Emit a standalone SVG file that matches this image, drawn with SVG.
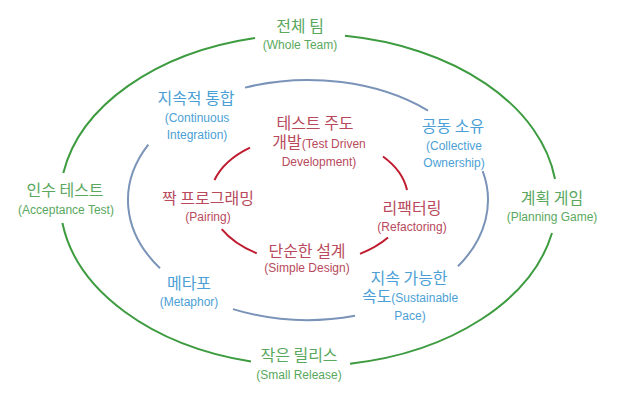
<svg xmlns="http://www.w3.org/2000/svg" width="617" height="405" viewBox="0 0 617 405">
<style>
.ring{fill:none;stroke-width:2;stroke-linecap:butt}
.rg{stroke:#3d9b40}
.rb{stroke:#7a93b8}
.rr{stroke:#c01a2e}
text{text-anchor:middle}
.ko{font-family:"Noto Sans CJK KR","Noto Sans",sans-serif;font-size:16px}
.en{font-family:"Liberation Sans",Arial,sans-serif;font-size:12px}
.g{fill:#5aa85e}
.b{fill:#4c9fd6}
.r{fill:#b84a5c}
</style>
<rect width="617" height="405" fill="#ffffff"/>
<g id="connectors">
  <path class="ring rg" d="M345,35.8 A248.5,166 0 0 1 555,179"/>
  <path class="ring rg" d="M552,233 A248.5,166 0 0 1 350,363.7"/>
  <path class="ring rg" d="M251,361.5 A248.5,166 0 0 1 62.4,223"/>
  <path class="ring rg" d="M63.3,173 A248.5,166 0 0 1 255,37.9"/>
  <path class="ring rb" d="M245,87.6 A180,120 0 0 1 428,110.6"/>
  <path class="ring rb" d="M482.7,171.1 A180,120 0 0 1 458,266.3"/>
  <path class="ring rb" d="M355,315.8 A180,120 0 0 1 233,309.1"/>
  <path class="ring rb" d="M160,268.3 A180,120 0 0 1 148.3,144.6"/>
  <path class="ring rr" d="M214.5,180 A99,64 0 0 1 250,147.6"/>
  <path class="ring rr" d="M383,156.5 A99,64 0 0 1 407,190"/>
  <path class="ring rr" d="M388,237.6 A99,64 0 0 1 360,253.9"/>
  <path class="ring rr" d="M256.7,253.3 A99,64 0 0 1 221.7,229.2"/>
</g>
<g id="whole-team">
  <text class="ko g" x="300" y="32">전체 팀</text>
  <text class="en g" x="300" y="49">(Whole Team)</text>
</g>
<g id="acceptance-test">
  <text class="ko g" x="65" y="196">인수 테스트</text>
  <text class="en g" x="66" y="214">(Acceptance Test)</text>
</g>
<g id="planning-game">
  <text class="ko g" x="552" y="204">계획 게임</text>
  <text class="en g" x="552" y="221">(Planning Game)</text>
</g>
<g id="small-release">
  <text class="ko g" x="299" y="361">작은 릴리스</text>
  <text class="en g" x="299" y="379">(Small Release)</text>
</g>
<g id="continuous-integration">
  <text class="ko b" x="196" y="104">지속적 통합</text>
  <text class="en b" x="197" y="122">(Continuous</text>
  <text class="en b" x="197" y="139">Integration)</text>
</g>
<g id="collective-ownership">
  <text class="ko b" x="453" y="132">공동 소유</text>
  <text class="en b" x="454" y="150">(Collective</text>
  <text class="en b" x="454" y="167">Ownership)</text>
</g>
<g id="metaphor">
  <text class="ko b" x="189" y="289">메타포</text>
  <text class="en b" x="189" y="306">(Metaphor)</text>
</g>
<g id="sustainable-pace">
  <text class="ko b" x="409" y="284">지속 가능한</text>
  <text class="b" x="410" y="302"><tspan class="ko">속도</tspan><tspan class="en">(Sustainable</tspan></text>
  <text class="en b" x="410" y="320">Pace)</text>
</g>
<g id="tdd">
  <text class="ko r" x="315" y="129">테스트 주도</text>
  <text class="r" x="319" y="148"><tspan class="ko">개발</tspan><tspan class="en">(Test Driven</tspan></text>
  <text class="en r" x="319" y="166">Development)</text>
</g>
<g id="pairing">
  <text class="ko r" x="208" y="204">짝 프로그래밍</text>
  <text class="en r" x="208" y="221">(Pairing)</text>
</g>
<g id="refactoring">
  <text class="ko r" x="412" y="214">리팩터링</text>
  <text class="en r" x="412" y="231">(Refactoring)</text>
</g>
<g id="simple-design">
  <text class="ko r" x="307" y="257">단순한 설계</text>
  <text class="en r" x="307" y="272">(Simple Design)</text>
</g>
</svg>
